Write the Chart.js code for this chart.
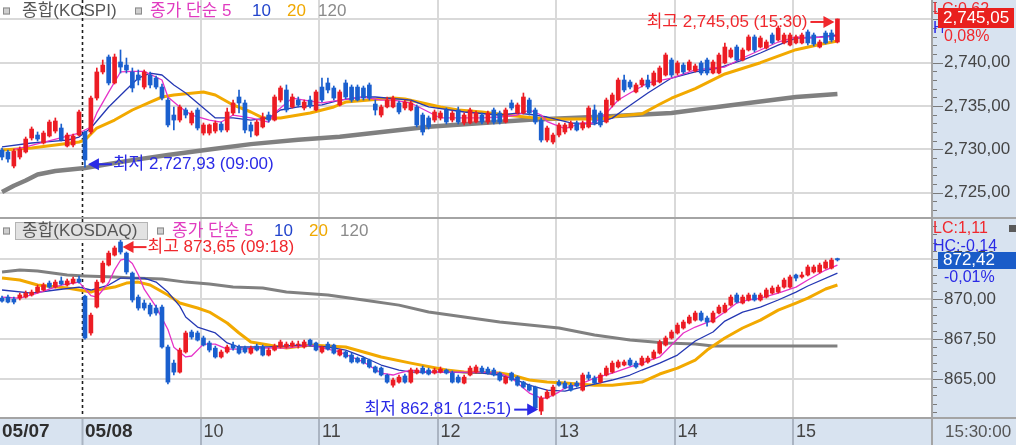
<!DOCTYPE html>
<html lang="ko">
<head>
<meta charset="utf-8">
<title>종합(KOSPI) / 종합(KOSDAQ) 3분봉</title>
<script src="https://cdn.jsdelivr.net/npm/chart.js@4.4.1/dist/chart.umd.min.js"></script>
<style>
  html, body { margin: 0; padding: 0; background: #fff; }
  #wrap { position: relative; width: 1016px; height: 445px; overflow: hidden; }
  canvas { position: absolute; left: 0; }
  #kospi { top: 0; }
  #kosdaq { top: 219px; }
</style>
</head>
<body>
<div id="wrap">
  <canvas id="kospi" width="1016" height="219"></canvas>
  <canvas id="kosdaq" width="1016" height="226"></canvas>
</div>
<script>
// 3분봉 슬롯 번호: 0 = 05/08 09:00, 음수 = 05/07 장 마감 쪽
const firstSlot = -14;
const slotMin = -14.34;
const slotMax = 142.96;

// ---------- 종합(KOSPI) ----------
const kospiOpen = [
  2729.92, 2729.69, 2728.07, 2729.11, 2729.69, 2731.31, 2731.65, 2730.73, 2731.54, 2732.11, 2732.46, 2730.38, 2730.50, 2731.65,
  2732.00, 2732.00, 2735.92, 2738.93, 2740.66, 2737.66, 2740.08, 2739.73, 2738.93, 2738.58,
  2737.19, 2738.58, 2738.23, 2737.19, 2735.69, 2733.96, 2733.38, 2734.54, 2733.04, 2734.54,
  2731.88, 2731.88, 2732.11, 2732.92, 2732.23, 2734.19, 2736.04, 2735.35, 2732.81, 2731.65,
  2732.58, 2733.96, 2733.38, 2735.69, 2736.85, 2734.89, 2735.69, 2734.77, 2735.69, 2734.54,
  2737.19, 2737.66, 2737.08, 2735.12, 2737.66, 2737.19, 2737.19, 2737.08, 2737.43, 2735.23,
  2733.96, 2734.89, 2734.89, 2735.35, 2734.77, 2734.54, 2734.89, 2733.96, 2733.62, 2733.38,
  2733.62, 2734.54, 2733.38, 2734.54, 2733.04, 2733.04, 2733.15, 2733.96, 2733.15, 2734.54,
  2734.19, 2733.15, 2735.35, 2734.19, 2734.19, 2735.69, 2734.54, 2733.38, 2731.07, 2730.84,
  2731.65, 2732.00, 2732.46, 2733.04, 2732.46, 2732.58, 2734.54, 2734.19, 2733.15, 2735.12,
  2735.69, 2738.00, 2737.77, 2736.62, 2737.43, 2738.00, 2737.43, 2737.77, 2738.58, 2740.31,
  2738.81, 2739.73, 2739.16, 2739.04, 2739.97, 2740.31, 2738.81, 2738.81, 2739.97, 2740.66,
  2741.81, 2740.31, 2741.47, 2742.97, 2741.81, 2741.70, 2743.20, 2742.62, 2742.28, 2742.04,
  2742.28, 2742.28, 2743.55, 2743.20, 2741.81, 2743.43, 2743.43, 2742.39
];
const kospiHigh = [
  2730.15, 2729.92, 2730.04, 2730.27, 2731.42, 2732.58, 2732.00, 2732.11, 2733.38, 2733.62, 2732.92, 2731.88, 2731.77, 2734.54,
  2732.11, 2736.16, 2739.39, 2740.31, 2740.89, 2741.00, 2741.47, 2740.54, 2739.39, 2739.16,
  2739.16, 2738.93, 2738.46, 2737.54, 2735.92, 2734.89, 2735.12, 2734.77, 2734.42, 2734.77,
  2733.04, 2732.92, 2733.27, 2733.15, 2734.77, 2735.69, 2736.85, 2735.69, 2733.15, 2733.38,
  2734.19, 2734.31, 2736.27, 2737.31, 2737.43, 2736.39, 2736.04, 2735.69, 2736.16, 2736.85,
  2738.23, 2738.23, 2737.31, 2736.85, 2738.00, 2737.43, 2737.43, 2737.31, 2737.66, 2735.69,
  2735.12, 2736.04, 2736.16, 2735.58, 2735.69, 2735.58, 2735.12, 2734.19, 2733.85, 2734.54,
  2734.42, 2734.77, 2734.42, 2734.89, 2734.19, 2734.77, 2734.42, 2734.19, 2734.42, 2734.77,
  2734.42, 2734.77, 2735.69, 2735.35, 2736.50, 2735.92, 2734.77, 2733.62, 2732.69, 2731.88,
  2733.04, 2733.04, 2733.27, 2733.27, 2733.27, 2735.00, 2735.12, 2734.42, 2735.92, 2736.50,
  2738.23, 2738.58, 2738.00, 2737.66, 2738.23, 2738.58, 2739.04, 2739.62, 2741.12, 2740.54,
  2740.20, 2739.97, 2740.31, 2739.85, 2740.20, 2740.54, 2740.31, 2741.12, 2742.28, 2741.70,
  2742.04, 2741.70, 2743.20, 2743.20, 2743.08, 2742.62, 2743.43, 2744.24, 2743.43, 2743.43,
  2743.20, 2743.43, 2743.78, 2743.43, 2742.62, 2743.66, 2743.78, 2745.05
];
const kospiLow = [
  2728.77, 2728.53, 2727.84, 2728.88, 2729.57, 2731.07, 2730.96, 2730.61, 2731.42, 2731.88, 2730.96, 2730.27, 2730.27, 2731.54,
  2727.93, 2731.77, 2735.69, 2738.70, 2737.43, 2737.54, 2738.81, 2738.81, 2736.62, 2737.43,
  2736.96, 2737.08, 2736.96, 2735.69, 2732.58, 2732.23, 2733.15, 2733.62, 2732.81, 2732.23,
  2731.65, 2731.65, 2731.88, 2732.00, 2732.00, 2733.96, 2734.19, 2731.88, 2731.42, 2731.54,
  2732.46, 2733.15, 2733.27, 2735.46, 2734.31, 2734.77, 2734.89, 2734.54, 2734.77, 2734.42,
  2735.46, 2736.50, 2735.69, 2735.00, 2735.81, 2735.46, 2735.58, 2735.69, 2735.69, 2733.96,
  2733.73, 2734.77, 2734.77, 2734.08, 2734.54, 2734.42, 2732.58, 2731.65, 2732.34, 2733.15,
  2733.38, 2732.92, 2733.15, 2732.92, 2732.81, 2732.92, 2733.04, 2732.92, 2732.92, 2732.92,
  2732.92, 2733.04, 2734.54, 2734.08, 2734.08, 2733.96, 2732.92, 2730.84, 2730.84, 2730.61,
  2731.42, 2731.77, 2732.23, 2732.11, 2732.23, 2732.46, 2732.81, 2732.58, 2733.04, 2734.89,
  2735.58, 2736.62, 2736.96, 2736.50, 2737.19, 2736.96, 2737.31, 2737.66, 2738.46, 2738.35,
  2738.58, 2738.70, 2739.04, 2738.93, 2738.58, 2738.58, 2738.70, 2738.70, 2739.85, 2740.54,
  2740.20, 2740.20, 2741.35, 2741.24, 2741.70, 2741.58, 2742.16, 2742.51, 2742.16, 2741.93,
  2742.16, 2742.16, 2742.04, 2741.93, 2741.70, 2742.16, 2742.39, 2742.28
];
const kospiClose = [
  2729.11, 2728.88, 2729.80, 2730.04, 2731.19, 2732.34, 2731.19, 2731.88, 2733.15, 2733.27, 2731.07, 2731.65, 2731.54, 2734.31,
  2728.77, 2735.92, 2738.93, 2739.73, 2737.66, 2740.66, 2739.50, 2739.16, 2737.08, 2738.00,
  2738.93, 2737.43, 2737.19, 2735.92, 2732.81, 2733.38, 2734.89, 2733.96, 2734.19, 2732.46,
  2732.81, 2732.81, 2733.04, 2732.23, 2734.31, 2735.35, 2735.35, 2732.23, 2732.11, 2733.15,
  2733.73, 2733.38, 2736.04, 2737.08, 2734.54, 2736.04, 2735.12, 2735.46, 2735.00, 2736.62,
  2735.69, 2736.85, 2735.92, 2736.62, 2736.04, 2735.69, 2735.69, 2735.92, 2735.92, 2734.54,
  2734.89, 2735.69, 2735.92, 2734.31, 2735.46, 2735.35, 2732.81, 2732.00, 2732.58, 2734.31,
  2734.19, 2733.15, 2734.19, 2733.15, 2733.96, 2734.54, 2734.19, 2733.15, 2734.19, 2733.15,
  2733.15, 2734.54, 2734.77, 2735.12, 2736.04, 2734.19, 2733.15, 2731.07, 2732.46, 2731.65,
  2732.81, 2732.81, 2733.04, 2732.23, 2733.04, 2734.77, 2733.04, 2732.81, 2735.69, 2736.27,
  2738.00, 2736.85, 2737.19, 2737.43, 2738.00, 2737.19, 2738.81, 2739.39, 2740.89, 2738.58,
  2739.97, 2738.93, 2740.08, 2739.62, 2738.81, 2738.81, 2740.08, 2740.89, 2741.81, 2741.47,
  2740.31, 2741.47, 2742.97, 2741.47, 2742.85, 2742.39, 2742.28, 2744.01, 2743.20, 2743.20,
  2742.97, 2743.20, 2742.28, 2742.16, 2742.39, 2742.28, 2742.62, 2745.05
];
// 이동평균 [슬롯, 값]
const kospiMa5 = [[-12,2730.0],[-10,2730.27],[-1,2731.88],[1,2732.58],[2,2734.2],[4,2736.6],[6,2738.93],[8,2739.0],[10,2739.0],[13,2738.0],[14,2736.04],[16,2734.89],[18,2733.96],[21,2733.38],[23,2733.15],[25,2733.96],[28,2733.62],[31,2733.15],[32,2734.19],[35,2735.92],[37,2735.69],[40,2735.35],[43,2735.69],[47,2736.04],[50,2735.69],[52,2735.69],[55,2735.35],[58,2734.31],[60,2733.62],[64,2733.62],[67,2733.62],[70,2733.73],[73,2733.96],[75,2734.54],[77,2733.96],[78,2733.2],[81,2732.4],[84,2733.04],[86,2733.04],[88,2734.19],[90,2735.69],[92,2736.5],[95,2737.66],[99,2738.23],[103,2739.16],[106,2739.39],[108,2739.5],[111,2740.54],[114,2741.47],[117,2742.39],[120,2742.97],[122,2742.85],[127,2743.08]];
const kospiMa10 = [[-14,2730.27],[-9,2730.73],[-3,2731.07],[-1,2731.42],[1,2732.46],[4,2734.89],[7,2736.9],[9,2738.23],[11,2738.8],[13,2738.58],[15,2737.43],[17,2736.5],[19,2735.35],[22,2733.62],[25,2733.62],[28,2733.38],[31,2733.62],[33,2734.54],[36,2734.89],[40,2735.12],[43,2735.69],[47,2736.04],[49,2736.04],[55,2735.69],[58,2734.89],[64,2734.31],[70,2733.96],[73,2734.19],[76,2733.96],[78,2733.73],[82,2733.04],[86,2732.9],[89,2733.6],[91,2734.6],[95,2736.5],[99,2738.23],[103,2738.93],[107,2739.39],[111,2740.31],[114,2741.12],[117,2742.04],[120,2742.85],[124,2742.97],[127,2743.2]];
const kospiMa20 = [[-14,2729.92],[-9,2730.15],[-1,2730.84],[0,2731.07],[2,2732.46],[5,2733.38],[8,2734.54],[11,2735.46],[13,2736.04],[15,2736.27],[20,2736.62],[22,2736.27],[25,2735.12],[28,2734.31],[30,2733.62],[33,2733.62],[38,2734.2],[42,2734.89],[44,2735.46],[48,2735.69],[52,2735.92],[54,2735.81],[57,2735.35],[60,2734.89],[63,2734.54],[67,2734.31],[71,2733.96],[76,2733.62],[79,2733.5],[87,2733.5],[90,2733.85],[94,2734.1],[97,2735.2],[99,2735.9],[103,2737.0],[108,2738.7],[114,2740.0],[120,2741.5],[124,2742.1],[127,2742.5]];
const kospiMa120 = [[-14,2725.07],[-12,2725.8],[-10,2726.4],[-8,2727.1],[-5,2727.5],[0,2727.85],[8,2728.75],[14,2729.35],[20,2729.9],[28,2730.6],[36,2731.1],[43,2731.45],[58,2732.6],[75,2733.4],[87,2733.75],[99,2734.2],[108,2735.0],[120,2736.05],[127,2736.4]];

// ---------- 종합(KOSDAQ) ----------
const kosdaqOpen = [
  870.05, 870.11, 869.99, 870.05, 870.11, 870.24, 870.42, 870.55, 870.98, 870.73, 871.11, 870.86, 870.98, 871.23,
  870.17, 867.88, 869.49, 871.04, 872.10, 872.72, 873.53, 872.84, 871.60, 870.11,
  869.74, 869.61, 869.43, 869.49, 867.01, 866.01, 865.45, 866.70, 867.94, 867.88,
  867.57, 867.26, 866.94, 866.39, 866.70, 867.13, 867.01, 866.94, 866.63, 867.07,
  867.01, 866.51, 866.82, 867.01, 867.01, 867.07, 867.13, 867.01, 867.44, 867.26,
  866.70, 867.19, 867.13, 866.51, 866.70, 866.51, 866.32, 866.32, 866.20, 865.77,
  865.70, 865.27, 864.64, 864.83, 865.21, 864.83, 865.39, 865.70, 865.58, 865.39,
  865.45, 865.58, 865.39, 865.14, 864.77, 865.27, 865.45, 865.70, 865.64, 865.58,
  865.39, 864.77, 865.39, 865.14, 864.83, 864.64, 864.52, 863.03, 863.84, 864.02,
  864.83, 864.77, 864.64, 864.77, 864.33, 865.27, 865.08, 864.83, 865.27, 865.45,
  865.77, 865.89, 866.20, 866.01, 865.89, 866.08, 866.32, 866.63, 867.13, 867.57,
  867.88, 868.19, 868.50, 868.68, 869.12, 868.81, 868.56, 869.12, 869.18, 869.61,
  870.24, 869.74, 869.93, 870.24, 869.93, 870.11, 870.36, 870.42, 870.73, 870.73,
  871.48, 871.36, 871.48, 871.67, 871.67, 871.91, 871.91, 872.50
];
const kosdaqHigh = [
  870.17, 870.24, 870.11, 870.36, 870.49, 870.55, 870.86, 870.98, 871.11, 871.17, 871.36, 871.23, 871.36, 871.42,
  870.24, 869.12, 871.17, 872.35, 872.97, 873.28, 873.65, 872.91, 871.67, 870.24,
  869.93, 869.74, 869.61, 869.61, 867.13, 866.20, 866.94, 868.00, 868.06, 868.00,
  867.69, 867.38, 867.07, 866.82, 867.13, 867.32, 867.13, 867.07, 867.07, 867.19,
  867.13, 866.94, 867.19, 867.44, 867.32, 867.38, 867.38, 867.44, 867.50, 867.32,
  867.07, 867.32, 867.19, 866.88, 866.76, 866.63, 866.39, 866.39, 866.26, 865.83,
  865.77, 865.33, 865.08, 865.27, 865.33, 865.70, 865.70, 865.83, 865.70, 865.70,
  865.77, 865.64, 865.52, 865.27, 865.27, 865.83, 865.89, 865.83, 865.77, 865.70,
  865.45, 865.21, 865.45, 865.21, 864.89, 864.71, 864.58, 863.96, 864.33, 864.64,
  864.96, 864.89, 864.77, 864.89, 865.39, 865.45, 865.21, 865.39, 865.83, 866.14,
  866.20, 866.20, 866.32, 866.14, 866.45, 866.45, 866.82, 867.44, 867.69, 868.06,
  868.50, 868.68, 868.99, 869.24, 869.24, 868.93, 869.24, 869.61, 869.74, 870.24,
  870.36, 870.24, 870.36, 870.36, 870.36, 870.67, 870.80, 870.86, 871.29, 871.48,
  871.54, 871.67, 872.10, 872.10, 872.22, 872.41, 872.53, 872.53
];
const kosdaqLow = [
  869.80, 869.74, 869.68, 869.93, 870.05, 870.17, 870.36, 870.49, 870.67, 870.67, 870.86, 870.80, 870.92, 870.98,
  867.50, 867.75, 869.43, 870.98, 872.04, 872.66, 872.78, 871.54, 869.80, 869.30,
  869.30, 868.93, 868.99, 866.94, 864.71, 865.27, 865.39, 866.63, 867.50, 867.38,
  867.07, 866.70, 866.32, 866.32, 866.63, 866.82, 866.57, 866.63, 866.57, 866.76,
  866.45, 866.45, 866.76, 866.94, 866.94, 867.01, 866.94, 866.94, 867.07, 866.76,
  866.63, 866.82, 866.57, 866.45, 866.32, 866.01, 866.01, 865.95, 865.70, 865.39,
  865.21, 864.77, 864.52, 864.77, 864.77, 864.77, 865.33, 865.33, 865.27, 865.33,
  865.39, 865.33, 864.77, 864.77, 864.71, 865.21, 865.39, 865.39, 865.33, 865.21,
  864.89, 864.71, 864.89, 864.58, 864.46, 864.27, 863.16, 862.81, 863.78, 863.96,
  864.58, 864.40, 864.27, 864.52, 864.27, 864.96, 864.71, 864.77, 865.21, 865.39,
  865.70, 865.83, 865.83, 865.70, 865.83, 866.01, 866.26, 866.57, 867.07, 867.50,
  867.81, 868.12, 868.44, 868.62, 868.62, 868.31, 868.50, 869.06, 869.12, 869.55,
  869.74, 869.68, 869.86, 869.86, 869.86, 870.05, 870.30, 870.36, 870.67, 870.67,
  871.11, 871.29, 871.42, 871.60, 871.60, 871.85, 871.85, 872.35
];
const kosdaqClose = [
  869.86, 869.80, 869.80, 870.24, 870.36, 870.42, 870.73, 870.86, 870.73, 871.04, 870.92, 871.11, 871.23, 871.04,
  867.57, 868.99, 871.04, 872.22, 872.84, 873.16, 872.91, 871.67, 869.93, 869.43,
  869.43, 869.06, 869.12, 867.01, 864.83, 865.45, 866.82, 867.88, 867.63, 867.44,
  867.13, 866.82, 866.39, 866.70, 867.01, 866.94, 866.63, 866.70, 866.94, 866.82,
  866.51, 866.82, 867.07, 867.32, 867.19, 867.26, 867.19, 867.32, 867.13, 866.82,
  867.01, 866.88, 866.63, 866.82, 866.39, 866.08, 866.08, 866.01, 865.77, 865.45,
  865.27, 864.83, 864.96, 865.14, 864.83, 865.58, 865.58, 865.39, 865.33, 865.58,
  865.64, 865.39, 864.83, 864.83, 865.14, 865.70, 865.77, 865.45, 865.39, 865.27,
  864.96, 865.14, 864.96, 864.64, 864.52, 864.33, 863.22, 863.84, 864.21, 864.52,
  864.64, 864.46, 864.33, 864.58, 865.27, 865.08, 864.77, 865.27, 865.70, 866.01,
  866.08, 866.08, 865.89, 865.77, 866.32, 866.32, 866.70, 867.32, 867.57, 867.94,
  868.37, 868.56, 868.87, 869.12, 868.68, 868.56, 869.12, 869.49, 869.61, 870.11,
  869.80, 870.11, 870.24, 869.93, 870.24, 870.55, 870.67, 870.73, 871.17, 871.36,
  871.29, 871.48, 871.98, 871.98, 872.10, 872.29, 872.41, 872.42
];
const kosdaqMa5 = [[-14,870.11],[-11,870.05],[-8,870.36],[-4,870.86],[-1,871.04],[1,870.2],[2,870.1],[4,871.0],[5,871.8],[6,872.4],[7,872.5],[8,872.2],[9,871.5],[10,870.6],[12,869.5],[14,868.1],[15,867.0],[17,866.39],[18,866.45],[20,867.19],[22,867.19],[24,866.88],[26,866.88],[30,866.94],[34,866.94],[38,867.13],[43,866.7],[47,866.08],[50,865.39],[52,865.27],[53,865.39],[55,865.58],[58,865.45],[67,865.45],[70,865.39],[72,865.08],[75,864.15],[77,863.84],[78,863.84],[80,864.21],[81,864.46],[84,864.77],[86,865.08],[89,865.39],[92,865.77],[94,866.01],[97,866.39],[99,867.13],[101,867.88],[103,868.25],[106,868.68],[108,869.18],[110,869.74],[112,869.93],[114,870.05],[117,870.36],[120,870.73],[122,871.17],[125,871.79],[127,872.1]];
const kosdaqMa10 = [[-14,870.55],[-9,870.36],[-5,870.55],[-1,870.73],[1,870.55],[4,870.86],[6,871.29],[10,871.29],[12,871.04],[14,870.42],[16,869.55],[17,868.87],[19,868.25],[22,867.88],[24,867.26],[26,867.01],[31,867.01],[36,867.13],[41,867.01],[44,866.82],[47,866.39],[50,865.89],[53,865.58],[55,865.45],[61,865.45],[67,865.39],[70,865.27],[72,865.08],[75,864.64],[78,864.33],[81,864.27],[86,864.71],[89,864.96],[92,865.27],[94,865.58],[97,866.01],[100,866.51],[103,867.38],[106,867.94],[108,868.62],[111,869.18],[114,869.49],[117,869.93],[120,870.42],[122,870.8],[127,871.6]];
const kosdaqMa20 = [[-14,871.29],[-11,871.17],[-8,870.86],[-3,870.67],[-1,870.55],[1,870.42],[2,870.55],[5,870.73],[7,870.98],[9,871.04],[11,870.86],[14,870.24],[16,869.74],[19,869.43],[21,869.18],[24,868.5],[26,867.88],[28,867.32],[31,867.13],[34,866.94],[38,867.13],[44,867.01],[50,866.39],[55,866.01],[61,865.58],[64,865.45],[70,865.39],[72,865.27],[75,864.96],[78,864.83],[81,864.77],[86,864.64],[89,864.64],[94,864.83],[97,865.33],[100,865.7],[103,866.2],[105,866.82],[108,867.57],[111,868.19],[114,868.68],[117,869.3],[120,869.74],[122,870.05],[125,870.61],[127,870.86]];
const kosdaqMa120 = [[-14,871.67],[-11,871.79],[-8,871.73],[-3,871.48],[0,871.42],[5,871.36],[8,871.29],[13,871.23],[17,871.04],[21,870.92],[25,870.73],[30,870.67],[34,870.42],[41,870.24],[47,869.93],[53,869.61],[58,869.18],[64,868.87],[70,868.56],[75,868.37],[80,868.19],[86,867.75],[92,867.44],[98,867.26],[103,867.2],[106,867.07],[127,867.07]];

// 축
const kospiRange = [2722.07, 2747.24];
const kosdaqRange = [862.60, 874.96];
const kospiTicks = [2725, 2730, 2735, 2740, 2745];
const kosdaqTicks = [865, 867.5, 870, 872.5];
const dayLineSlot = -0.5;
const hourSlots = [19.5, 39.5, 59.5, 79.5, 99.5, 119.5];
const timeLabels = ['05/07', '05/08', '10', '11', '12', '13', '14', '15'];
const timeLabelSlots = [slotMin, -0.5, 19.5, 39.5, 59.5, 79.5, 99.5, 119.5];

const RED = '#ec1c24', BLUE = '#1a5fce';
const C_MA5 = '#e632c8', C_MA10 = '#2538b4', C_MA20 = '#f2a900', C_MA120 = '#808080';
const GRID = '#d9d9d9', AXIS_BG = '#d8e3f0', EDGE = '#a4a4a4';
const TXT_RED = '#f0282d', TXT_BLUE = '#2a2ae6';
const FONT = '"Liberation Sans", "Noto Sans CJK KR", sans-serif';

// 2,740,00 처럼 표시
function krNum(v) {
  const [i, d] = v.toFixed(2).split('.');
  return i.replace(/\B(?=(\d{3})+(?!\d))/g, ',') + ',' + d;
}

function candleSets(open, high, low, close) {
  const colors = close.map((c, k) => (c >= open[k] ? RED : BLUE));
  const wick = high.map((h, k) => ({ x: firstSlot + k, y: [low[k], h] }));
  const body = open.map((o, k) => ({ x: firstSlot + k, y: [o, close[k]] }));
  return [
    { type: 'bar', data: wick, backgroundColor: colors, barThickness: 1, grouped: false, order: 2 },
    { type: 'bar', data: body, backgroundColor: colors, barThickness: 4, minBarLength: 1, grouped: false, order: 1 }
  ];
}

function maLine(points, color, width, order) {
  return {
    type: 'line', data: points.map(([x, y]) => ({ x, y })),
    borderColor: color, borderWidth: width, pointRadius: 0, tension: 0,
    fill: false, borderJoinStyle: 'round', order
  };
}

function txt(ctx, s, x, y, color, size, align, bold) {
  ctx.font = (bold ? 'bold ' : '') + size + 'px ' + FONT;
  ctx.fillStyle = color;
  ctx.textAlign = align || 'left';
  ctx.textBaseline = 'middle';
  ctx.fillText(s, x, y);
}

function icon(ctx, x, y) {
  ctx.fillStyle = '#cfcfcf';
  ctx.fillRect(x, y - 3.5, 7, 7);
  ctx.strokeStyle = '#8a8a8a';
  ctx.lineWidth = 1;
  ctx.strokeRect(x + 0.5, y - 3, 6, 6);
}

function legend(ctx, name, y, boxed, xs) {
  icon(ctx, 3, y);
  if (boxed) {
    ctx.fillStyle = '#e2e2e2';
    ctx.fillRect(15, y - 9, 133, 18);
    ctx.strokeStyle = '#b4b4b4';
    ctx.strokeRect(15.5, y - 8.5, 132, 17);
  }
  txt(ctx, name, 22, y, '#555', 17);
  icon(ctx, xs[0] - 15, y);
  txt(ctx, '종가 단순 5', xs[0], y, '#e03cc0', 17);
  txt(ctx, '10', xs[1], y, '#2244cc', 17);
  txt(ctx, '20', xs[2], y, '#f0a800', 17);
  txt(ctx, '120', xs[3], y, '#8a8a8a', 17);
}

function arrow(ctx, tipX, y, dir, color) {
  ctx.save();
  ctx.fillStyle = color;
  ctx.strokeStyle = color;
  ctx.lineWidth = 2;
  ctx.beginPath();
  ctx.moveTo(tipX, y);
  ctx.lineTo(tipX - dir * 11, y - 6);
  ctx.lineTo(tipX - dir * 11, y + 6);
  ctx.closePath();
  ctx.fill();
  ctx.beginPath();
  ctx.moveTo(tipX - dir * 10, y);
  ctx.lineTo(tipX - dir * 24, y);
  ctx.stroke();
  ctx.restore();
}

function timeLines(chart, stripBottom) {
  const { ctx, chartArea: a, scales: { x } } = chart;
  ctx.save();
  ctx.lineWidth = 2;
  hourSlots.forEach(s => {
    const px = Math.round(x.getPixelForValue(s));
    ctx.strokeStyle = GRID;
    ctx.beginPath(); ctx.moveTo(px, a.top); ctx.lineTo(px, a.bottom); ctx.stroke();
    if (stripBottom) {
      ctx.strokeStyle = '#aab4c2';
      ctx.beginPath(); ctx.moveTo(px, a.bottom); ctx.lineTo(px, stripBottom); ctx.stroke();
    }
  });
  const dx = Math.round(x.getPixelForValue(dayLineSlot)) + 0.5;
  if (stripBottom) {
    ctx.strokeStyle = '#aab4c2';
    ctx.beginPath(); ctx.moveTo(dx, a.bottom); ctx.lineTo(dx, stripBottom); ctx.stroke();
  }
  ctx.strokeStyle = '#1e1e1e';
  ctx.lineWidth = 1.6;
  ctx.setLineDash([3, 3]);
  ctx.beginPath(); ctx.moveTo(dx, a.top); ctx.lineTo(dx, a.bottom); ctx.stroke();
  ctx.restore();
}

function axisMarks(chart, step, ticks) {
  const { ctx, chartArea: a, scales: { y } } = chart;
  ctx.save();
  ctx.strokeStyle = '#7a7a7a';
  ctx.lineWidth = 1;
  ctx.beginPath();
  for (let v = Math.ceil(y.min / step) * step; v <= y.max; v += step) {
    const py = Math.round(y.getPixelForValue(v)) + 0.5;
    const major = ticks.some(t => Math.abs(t - v) < 1e-6);
    ctx.moveTo(a.right + 1, py);
    ctx.lineTo(a.right + (major ? 11 : 5), py);
  }
  ctx.stroke();
  ctx.restore();
}

function makePanel(id, datasets, range, ticks, bottomPad, plugin) {
  return new Chart(document.getElementById(id), {
    type: 'bar',
    data: { datasets },
    options: {
      responsive: false, animation: false, events: [], devicePixelRatio: 1,
      layout: { padding: { top: 0, left: 0, right: 0, bottom: bottomPad } },
      plugins: { legend: { display: false }, tooltip: { enabled: false } },
      scales: {
        x: { type: 'linear', min: slotMin, max: slotMax, offset: false, display: false },
        y: {
          position: 'right', min: range[0], max: range[1],
          afterFit: s => { s.width = 84; s.paddingTop = 0; s.paddingBottom = 0; },
          afterBuildTicks: s => { s.ticks = [range[0], ...ticks, range[1]].map(v => ({ value: v })); },
          grid: {
            drawTicks: false, lineWidth: 2,
            color: c => (c.tick && ticks.includes(c.tick.value) ? GRID : 'rgba(0,0,0,0)')
          },
          border: { color: EDGE, width: 2 },
          ticks: {
            padding: 12, color: '#454545', autoSkip: false,
            font: { family: FONT, size: 17 },
            callback: v => (ticks.includes(v) ? krNum(v) : null)
          }
        }
      }
    },
    plugins: [plugin]
  });
}

// ---------- 위: KOSPI ----------
const kospiDecor = {
  id: 'kospiDecor',
  beforeDraw(chart) {
    const { ctx, chartArea: a, width, height } = chart;
    ctx.save();
    ctx.fillStyle = '#fff'; ctx.fillRect(0, 0, width, height);
    ctx.fillStyle = AXIS_BG; ctx.fillRect(a.right, 0, width - a.right, height);
    ctx.restore();
  },
  beforeDatasetsDraw(chart) { timeLines(chart, 0); },
  afterDraw(chart) {
    const { ctx, chartArea: a, width, scales: { x, y } } = chart;
    axisMarks(chart, 1, kospiTicks);
    ctx.save();
    ctx.fillStyle = EDGE; ctx.fillRect(0, a.bottom - 1, width, 2);
    legend(ctx, '종합(KOSPI)', 11, false, [150, 252, 287, 318]);

    const lowX = x.getPixelForValue(0) + 3, lowY = y.getPixelForValue(2727.93) - 3;
    arrow(ctx, lowX, lowY, -1, TXT_BLUE);
    txt(ctx, '최저 2,727,93 (09:00)', lowX + 25, lowY, TXT_BLUE, 17);

    const last = kospiClose.length - 1;
    const hiX = x.getPixelForValue(firstSlot + last) - 3, hiY = y.getPixelForValue(2745.05) + 3;
    arrow(ctx, hiX, hiY, 1, TXT_RED);
    txt(ctx, '최고 2,745,05 (15:30)', hiX - 27, hiY, TXT_RED, 17, 'right');

    txt(ctx, 'LC:0,62', a.right + 1, 10, TXT_RED, 16);
    txt(ctx, 'H', a.right + 1, 29, TXT_BLUE, 16);
    ctx.fillStyle = '#e9201e'; ctx.fillRect(a.right + 6, 8, 76, 20);
    txt(ctx, krNum(kospiClose[last]), a.right + 11, 18.5, '#fff', 17);
    ctx.fillStyle = AXIS_BG; ctx.fillRect(a.right + 11, 29, 62, 16);
    txt(ctx, '0,08%', a.right + 12, 37, TXT_RED, 16);
    ctx.restore();
  }
};

// ---------- 아래: KOSDAQ ----------
const kosdaqDecor = {
  id: 'kosdaqDecor',
  beforeDraw(chart) {
    const { ctx, chartArea: a, width, height } = chart;
    ctx.save();
    ctx.fillStyle = '#fff'; ctx.fillRect(0, 0, width, height);
    ctx.fillStyle = AXIS_BG;
    ctx.fillRect(a.right, 0, width - a.right, height);
    ctx.fillRect(0, a.bottom, width, height - a.bottom);
    ctx.restore();
  },
  beforeDatasetsDraw(chart) { timeLines(chart, chart.height); },
  afterDraw(chart) {
    const { ctx, chartArea: a, width, height, scales: { x, y } } = chart;
    axisMarks(chart, 0.5, kosdaqTicks);
    ctx.save();
    ctx.fillStyle = EDGE;
    ctx.fillRect(0, a.bottom - 1, width, 2);
    ctx.fillRect(a.right - 1, a.bottom, 2, height - a.bottom);

    legend(ctx, '종합(KOSDAQ)', 12, true, [172, 274, 309, 340]);

    const hiX = x.getPixelForValue(6) + 2, hiY = y.getPixelForValue(873.65) + 7;
    arrow(ctx, hiX, hiY, -1, TXT_RED);
    txt(ctx, '최고 873,65 (09:18)', hiX + 25, hiY, TXT_RED, 17);

    const lowX = x.getPixelForValue(77) - 3, lowY = y.getPixelForValue(862.81) - 5;
    arrow(ctx, lowX, lowY, 1, TXT_BLUE);
    txt(ctx, '최저 862,81 (12:51)', lowX - 27, lowY, TXT_BLUE, 17, 'right');

    txt(ctx, 'LC:1,11', a.right + 1, 10, TXT_RED, 16);
    ctx.fillStyle = '#5a5a5a'; ctx.fillRect(width - 7, 6, 7, 7);
    txt(ctx, 'HC:-0,14', a.right + 1, 28, TXT_BLUE, 16);
    const last = kosdaqClose.length - 1;
    ctx.fillStyle = '#1a5cc8'; ctx.fillRect(a.right + 6, 33, width - a.right - 6, 17);
    txt(ctx, krNum(kosdaqClose[last]), a.right + 11, 41.5, '#fff', 17);
    txt(ctx, '-0,01%', a.right + 12, 59, TXT_BLUE, 16);

    const ly = a.bottom + 14;
    timeLabels.forEach((t, k) => {
      const bold = t.includes('/');
      const px = k === 0 ? 2 : x.getPixelForValue(timeLabelSlots[k]) + 3;
      txt(ctx, t, px, ly, bold ? '#2e2e2e' : '#444', bold ? 19 : 18, 'left', bold);
    });
    txt(ctx, '15:30:00', a.right + 13, ly, '#555', 17);
    ctx.restore();
  }
};

makePanel('kospi', [
  maLine(kospiMa120, C_MA120, 4.5, 9),
  maLine(kospiMa20, C_MA20, 3, 8),
  maLine(kospiMa10, C_MA10, 1.3, 7),
  maLine(kospiMa5, C_MA5, 1.3, 6),
  ...candleSets(kospiOpen, kospiHigh, kospiLow, kospiClose)
], kospiRange, kospiTicks, 1, kospiDecor);

makePanel('kosdaq', [
  maLine(kosdaqMa120, C_MA120, 3, 9),
  maLine(kosdaqMa20, C_MA20, 3, 8),
  maLine(kosdaqMa10, C_MA10, 1.3, 7),
  maLine(kosdaqMa5, C_MA5, 1.3, 6),
  ...candleSets(kosdaqOpen, kosdaqHigh, kosdaqLow, kosdaqClose)
], kosdaqRange, kosdaqTicks, 27, kosdaqDecor);
</script>
</body>
</html>
